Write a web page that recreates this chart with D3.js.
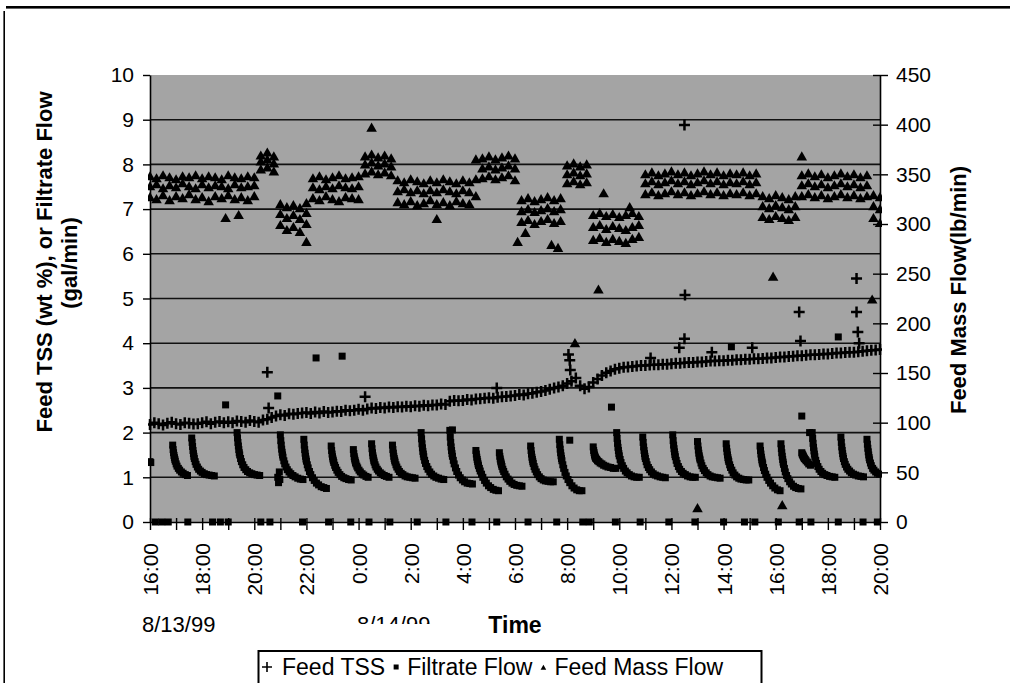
<!DOCTYPE html>
<html>
<head>
<meta charset="utf-8">
<script src="https://cdn.jsdelivr.net/npm/d3@7"></script>
<style>
  body { margin: 0; background: #fff; }
  svg { display: block; font-family: "Liberation Sans", Arial, sans-serif; }
</style>
</head>
<body>
<svg id="chart" width="1010" height="683"></svg>
<script>
// ---- Time frame of the run ----
const runStart = new Date(1999, 7, 13, 16, 0);
const runEnd = new Date(1999, 7, 14, 20, 0);

// ---- Feed TSS (wt %), logged every 10 minutes from 16:00 ----
const tssStepMin = 10;
const feedTss = [
  2.18,2.22,2.2,2.17,2.21,2.23,
  2.2,2.18,2.22,2.21,2.19,2.2,
  2.22,2.24,2.2,2.23,2.25,2.22,
  2.24,2.22,2.26,2.25,2.23,2.27,
  2.25,2.23,2.28,2.3,2.34,2.37,
  2.4,2.38,2.42,2.41,2.43,2.44,
  2.45,2.43,2.46,2.44,2.47,2.45,
  2.46,2.48,2.47,2.5,2.49,2.5,
  2.52,2.5,2.53,2.55,2.54,2.56,
  2.55,2.57,2.56,2.58,2.57,2.59,
  2.58,2.6,2.59,2.61,2.6,2.62,
  2.62,2.64,2.63,2.7,2.72,2.71,
  2.72,2.74,2.73,2.75,2.76,2.77,
  2.78,2.77,2.79,2.8,2.81,2.82,
  2.83,2.85,2.84,2.87,2.88,2.9,
  2.92,2.94,2.97,3.0,3.02,3.05,
  3.1,3.15,3.22,3.05,2.98,3.02,
  3.12,3.2,3.28,3.34,3.38,3.42,
  3.44,3.46,3.47,3.48,3.49,3.5,
  3.5,3.51,3.52,3.52,3.53,3.53,
  3.54,3.55,3.55,3.56,3.57,3.57,
  3.58,3.58,3.59,3.6,3.6,3.61,
  3.61,3.62,3.62,3.63,3.63,3.64,
  3.64,3.65,3.65,3.66,3.67,3.67,
  3.68,3.69,3.69,3.7,3.71,3.72,
  3.72,3.73,3.74,3.74,3.75,3.76,
  3.76,3.77,3.78,3.78,3.79,3.8,
  3.8,3.81,3.82,3.83,3.84,3.85,
  3.86
];
// isolated TSS readings: [hours after 16:00, wt %]
const feedTssExtra = [
  [4.5,3.35],[4.55,2.55],[8.25,2.8],[13.3,3.0],[16.05,3.75],[16.1,3.62],[16.12,3.4],
  [19.2,3.67],[20.3,3.9],[20.5,8.88],[20.52,5.08],[20.5,4.1],[21.55,3.8],[23.1,3.9],
  [24.9,4.7],[24.95,4.05],[27.1,5.45],[27.1,4.7],[27.15,4.25],[27.2,4.0]
];

// ---- Filtrate Flow (gal/min): one row per filtration cycle ----
const filtrateOffsetsMin = [0,1,2,3,4,5,6,8,10,13,16,20,24,29,34,40,46,52];
const filtrateCycleStart = [
  0.87,1.6,3.34,5.0,5.9,6.95,7.8,8.5,9.3,10.4,11.5,12.5,13.4,14.6,
  15.7,17.0,17.9,18.9,20.05,21.0,22.1,23.4,24.2,25.0,25.4,26.5,27.5
];
const filtrateCycles = [
  [1.72,1.62,1.55,1.49,1.44,1.4,1.36,1.3,1.25,1.2,1.16,1.12,1.09,1.06,1.04],
  [1.88,1.78,1.69,1.6,1.53,1.47,1.42,1.35,1.29,1.23,1.18,1.14,1.11,1.08,1.06,1.05,1.04,1.03],
  [2.0,1.88,1.78,1.7,1.62,1.55,1.5,1.42,1.35,1.28,1.22,1.17,1.13,1.1,1.08,1.06,1.05,1.04],
  [1.95,1.82,1.72,1.63,1.56,1.5,1.45,1.37,1.3,1.23,1.17,1.12,1.08,1.04,1.01,0.98,0.96,0.95],
  [1.85,1.72,1.62,1.54,1.47,1.41,1.36,1.28,1.21,1.13,1.06,0.99,0.93,0.87,0.83,0.79,0.77,0.75],
  [1.7,1.6,1.52,1.46,1.41,1.37,1.33,1.27,1.22,1.16,1.11,1.06,1.02,0.99,0.97,0.95,0.94],
  [1.62,1.53,1.46,1.41,1.37,1.33,1.3,1.25,1.21,1.16,1.12,1.08,1.05,1.02,1.0],
  [1.75,1.64,1.55,1.48,1.43,1.38,1.34,1.28,1.23,1.18,1.14,1.1,1.07,1.04,1.02,1.0],
  [1.72,1.62,1.54,1.47,1.42,1.38,1.34,1.28,1.23,1.18,1.13,1.09,1.06,1.03,1.01,1.0,0.99,0.98],
  [2.0,1.86,1.75,1.66,1.58,1.52,1.46,1.38,1.31,1.24,1.18,1.12,1.07,1.03,1.0,0.98,0.96,0.95],
  [2.05,1.9,1.78,1.68,1.6,1.53,1.47,1.38,1.3,1.21,1.13,1.05,0.99,0.94,0.9,0.87,0.86,0.85],
  [1.6,1.52,1.45,1.4,1.35,1.3,1.26,1.2,1.14,1.07,1.0,0.93,0.87,0.81,0.77,0.73,0.71,0.7],
  [1.55,1.47,1.41,1.36,1.32,1.28,1.24,1.18,1.13,1.07,1.01,0.96,0.91,0.87,0.84,0.82,0.81,0.8],
  [1.7,1.6,1.52,1.45,1.4,1.35,1.31,1.24,1.18,1.12,1.06,1.01,0.97,0.94,0.92,0.91,0.9,0.9],
  [1.85,1.73,1.63,1.55,1.48,1.42,1.37,1.28,1.2,1.11,1.03,0.95,0.88,0.81,0.76,0.72,0.7,0.7],
  [1.68,1.6,1.55,1.5,1.47,1.44,1.42,1.4,1.37,1.35,1.32,1.3,1.27,1.25,1.23,1.22,1.2,1.2],
  [2.0,1.87,1.76,1.67,1.6,1.53,1.48,1.4,1.33,1.26,1.2,1.14,1.1,1.06,1.03,1.01,1.0,1.0],
  [1.9,1.78,1.68,1.6,1.53,1.47,1.42,1.35,1.28,1.22,1.17,1.12,1.08,1.05,1.03,1.01,1.0,0.99],
  [1.95,1.82,1.72,1.64,1.57,1.51,1.46,1.38,1.31,1.24,1.18,1.13,1.09,1.06,1.03,1.01,1.0,1.0],
  [1.8,1.7,1.61,1.54,1.48,1.43,1.39,1.32,1.26,1.2,1.15,1.1,1.06,1.03,1.01,1.0,0.99,0.98],
  [1.75,1.65,1.57,1.5,1.44,1.39,1.35,1.28,1.22,1.16,1.1,1.05,1.01,0.98,0.96,0.95,0.94,0.94],
  [1.7,1.6,1.52,1.45,1.39,1.34,1.3,1.22,1.15,1.07,1.0,0.93,0.87,0.81,0.76,0.72,0.7],
  [1.75,1.64,1.55,1.47,1.4,1.34,1.29,1.2,1.12,1.04,0.97,0.9,0.85,0.8,0.77,0.75,0.74],
  [1.55,1.52,1.5,1.48,1.46,1.44,1.42,1.4,1.37,1.34,1.3,1.27],
  [2.0,1.87,1.76,1.67,1.59,1.52,1.46,1.38,1.31,1.24,1.18,1.13,1.09,1.06,1.04,1.02,1.01,1.0],
  [1.9,1.78,1.68,1.6,1.53,1.47,1.42,1.35,1.29,1.23,1.18,1.14,1.1,1.07,1.05,1.03,1.02,1.01],
  [1.85,1.74,1.65,1.57,1.5,1.44,1.39,1.32,1.26,1.2,1.16,1.12,1.09,1.07]
];
// no-flow readings between cycles (hours after 16:00)
const filtrateZeroTimes = [
  0.2,0.45,0.7,1.45,2.4,2.7,3.0,4.25,4.6,5.85,6.85,7.7,8.4,9.2,10.25,11.35,12.35,
  13.3,14.5,15.6,16.6,16.85,17.85,18.8,19.9,20.9,22.0,22.8,23.2,24.1,24.9,25.35,
  26.4,27.35,27.9
];
// isolated filtrate readings: [hours after 16:00, gal/min]
const filtrateExtra = [
  [0,1.35],[0.03,1.33],[2.9,2.62],[4.9,2.82],[6.37,3.67],[7.37,3.71],[4.9,1.0],
  [4.93,0.88],[4.96,1.12],[4.98,0.95],[11.6,2.06],[16.1,1.83],[17.7,2.57],
  [22.3,3.92],[25.0,2.37],[25.3,2.0],[26.4,4.14]
];

// ---- Feed Mass Flow (lb/min), every 15 minutes: upper, middle, lower readings ----
const massStepMin = 15;
const massHigh = [
  348,346,349,347,345,348,347,349,346,348,347,345,349,347,346,348,347,
  369,372,368,
  320,317,319,316,321,
  346,348,345,347,349,346,347,348,
  368,370,367,369,366,
  344,342,345,343,341,344,342,345,343,341,344,342,
  365,
  366,368,365,367,369,366,
  324,326,323,325,327,324,326,
  359,361,358,360,
  309,311,308,310,307,309,311,308,
  350,352,349,351,353,350,352,349,351,353,350,352,349,351,350,352,349,351,
  328,326,329,327,325,328,
  349,351,348,350,347,349,351,348,350,347,349,
  329,327
];
const massMid = [
  338,340,336,339,337,341,338,336,340,337,339,338,336,340,337,338,339,
  363,365,361,
  310,306,309,305,311,
  337,335,338,336,339,337,336,338,
  360,362,359,361,358,
  333,335,332,334,331,334,332,335,333,331,334,332,
  345,
  356,358,355,357,359,356,
  313,315,312,314,316,313,315,
  350,352,349,351,
  297,299,295,298,296,294,297,299,
  341,343,340,342,344,341,343,340,342,344,341,343,340,342,341,343,340,342,
  318,316,319,317,315,318,
  339,341,338,340,337,339,341,338,340,337,339,
  318,315
];
const massLow = [
  327,325,329,324,328,326,330,325,327,323,328,326,329,325,327,324,328,
  355,357,353,
  299,294,297,292,300,
  326,324,328,325,323,327,326,325,
  351,353,350,352,349,
  322,320,323,319,321,324,320,322,319,323,321,320,
  328,
  346,348,345,347,349,344,
  302,304,300,303,305,301,303,
  341,343,340,342,
  284,286,282,285,283,281,285,287,
  330,332,329,331,333,330,332,329,331,333,330,332,329,331,330,332,329,331,
  307,305,308,306,304,307,
  328,330,327,329,326,328,330,327,329,326,328,
  306,301
];
// isolated mass-flow readings: [hours after 16:00, lb/min]
const massExtra = [
  [8.5,397],[3.4,309],[2.9,306],[6.0,282],[11.0,305],[14.1,282],[14.4,291],[15.4,279],
  [15.65,276],[16.3,180],[17.2,234],[17.4,331],[18.4,317],[21.0,14],[23.9,247],
  [24.25,17],[25.0,368],[27.7,224]
];

// ---- Axis ticks and labels ----
const leftTicks = [0,1,2,3,4,5,6,7,8,9,10];
const rightTicks = [0,50,100,150,200,250,300,350,400,450];
const gridValues = [1,2,3,4,5,6,7,8,9];
const dateLabels = ["8/13/99", "8/14/99"];
const legendItems = [
  { key: "tss", label: "Feed TSS" },
  { key: "filtrate", label: "Filtrate Flow" },
  { key: "mass", label: "Feed Mass Flow" }
];

// ---- Layout ----
const plot = { left: 150, right: 880, top: 75, bottom: 522 };
const FONT = '"Liberation Sans", Arial, sans-serif';

const svg = d3.select("#chart");
const at = h => new Date(runStart.getTime() + h * 3600000);

const x = d3.scaleTime().domain([runStart, runEnd]).range([plot.left, plot.right]);
const yL = d3.scaleLinear().domain([0, 10]).range([plot.bottom, plot.top]);
const yR = d3.scaleLinear().domain([0, 450]).range([plot.bottom, plot.top]);

// outer frame lines
svg.append("rect").attr("x", 6).attr("y", 6).attr("width", 1004).attr("height", 2.6).attr("fill", "#000");
svg.append("rect").attr("x", 3.4).attr("y", 11).attr("width", 1.6).attr("height", 672).attr("fill", "#000");

// plot background
svg.append("rect")
  .attr("x", plot.left).attr("y", plot.top)
  .attr("width", plot.right - plot.left).attr("height", plot.bottom - plot.top)
  .attr("fill", "#a4a4a4");

// gridlines
svg.append("g").selectAll("line").data(gridValues).join("line")
  .attr("x1", plot.left).attr("x2", plot.right)
  .attr("y1", d => yL(d)).attr("y2", d => yL(d))
  .attr("stroke", "#111").attr("stroke-width", 1.6);

// clip for markers
svg.append("clipPath").attr("id", "plotClip").append("rect")
  .attr("x", plot.left - 2).attr("y", plot.top - 2)
  .attr("width", plot.right - plot.left + 4).attr("height", plot.bottom - plot.top + 6);

const marks = svg.append("g").attr("clip-path", "url(#plotClip)");

// Feed Mass Flow points
const massPoints = [];
[massHigh, massMid, massLow].forEach(arr => {
  arr.forEach((v, i) => massPoints.push({ t: at(i * massStepMin / 60), v }));
});
massExtra.forEach(([h, v]) => massPoints.push({ t: at(h), v }));

const triPath = d3.symbol(d3.symbolTriangle, 48)();
marks.append("g").selectAll("path").data(massPoints).join("path")
  .attr("d", triPath)
  .attr("transform", d => `translate(${x(d.t)},${yR(d.v) + 1})`)
  .attr("fill", "#000");

// Filtrate Flow points
const filtratePoints = [];
filtrateCycles.forEach((vals, ci) => {
  vals.forEach((v, j) => filtratePoints.push({ t: at(filtrateCycleStart[ci] + filtrateOffsetsMin[j] / 60), v }));
});
filtrateZeroTimes.forEach(h => filtratePoints.push({ t: at(h), v: 0 }));
filtrateExtra.forEach(([h, v]) => filtratePoints.push({ t: at(h), v }));

const sq = 7;
marks.append("g").selectAll("rect").data(filtratePoints).join("rect")
  .attr("x", d => x(d.t) - sq / 2).attr("y", d => yL(d.v) - sq / 2)
  .attr("width", sq).attr("height", sq)
  .attr("fill", "#000");

// Feed TSS points
const tssPoints = feedTss.map((v, i) => ({ t: at(i * tssStepMin / 60), v }));
feedTssExtra.forEach(([h, v]) => tssPoints.push({ t: at(h), v }));
const plusPath = "M-5.5,0H5.5M0,-5.5V5.5";
marks.append("g").selectAll("path").data(tssPoints).join("path")
  .attr("d", plusPath)
  .attr("transform", d => `translate(${x(d.t)},${yL(d.v)})`)
  .attr("stroke", "#000").attr("stroke-width", 2.5).attr("fill", "none");

// ---- Axes ----
function styleAxis(g) {
  g.selectAll(".domain").attr("stroke", "#000").attr("stroke-width", 1.6);
  g.selectAll(".tick line").attr("stroke", "#000").attr("stroke-width", 1.4);
  g.selectAll("text").attr("font-family", FONT).attr("font-size", 21).attr("fill", "#000");
}

const leftAxis = svg.append("g").attr("transform", `translate(${plot.left},0)`)
  .call(d3.axisLeft(yL).tickValues(leftTicks).tickFormat(d3.format("d"))
    .tickSizeInner(7).tickSizeOuter(0).tickPadding(9));
styleAxis(leftAxis);

const rightAxis = svg.append("g").attr("transform", `translate(${plot.right},0)`)
  .call(d3.axisRight(yR).tickValues(rightTicks).tickFormat(d3.format("d"))
    .tickSizeInner(8).tickSizeOuter(0).tickPadding(8));
styleAxis(rightAxis);
rightAxis.selectAll(".tick line").attr("x1", -7);

const hourFmt = d3.timeFormat("%-H:%M");
const bottomAxis = svg.append("g").attr("transform", `translate(0,${plot.bottom})`)
  .call(d3.axisBottom(x).ticks(d3.timeHour.every(1))
    .tickFormat(d => d.getHours() % 2 === 0 ? hourFmt(d) : "")
    .tickSizeInner(8).tickSizeOuter(0));
styleAxis(bottomAxis);
bottomAxis.selectAll(".tick line").attr("y1", -4);
bottomAxis.selectAll(".tick text")
  .attr("transform", "rotate(-90)")
  .attr("text-anchor", "end")
  .attr("x", -21).attr("y", 0).attr("dy", "0.36em");

// ---- Titles ----
svg.append("text")
  .attr("transform", "translate(52,262) rotate(-90)")
  .attr("text-anchor", "middle")
  .attr("font-family", FONT).attr("font-size", 22).attr("font-weight", "bold")
  .text("Feed TSS (wt %), or Filtrate Flow");
svg.append("text")
  .attr("transform", "translate(77,263) rotate(-90)")
  .attr("text-anchor", "middle")
  .attr("font-family", FONT).attr("font-size", 22).attr("font-weight", "bold")
  .text("(gal/min)");
svg.append("text")
  .attr("transform", "translate(966,290) rotate(-90)")
  .attr("text-anchor", "middle")
  .attr("font-family", FONT).attr("font-size", 22).attr("font-weight", "bold")
  .text("Feed Mass Flow(lb/min)");

svg.append("text")
  .attr("x", 515).attr("y", 633).attr("text-anchor", "middle")
  .attr("font-family", FONT).attr("font-size", 23).attr("font-weight", "bold")
  .text("Time");

svg.append("text")
  .attr("x", 142).attr("y", 632)
  .attr("font-family", FONT).attr("font-size", 22)
  .text(dateLabels[0]);

svg.append("clipPath").attr("id", "dateClip").append("rect")
  .attr("x", 340).attr("y", 600).attr("width", 120).attr("height", 24);
svg.append("text")
  .attr("x", 357).attr("y", 632)
  .attr("clip-path", "url(#dateClip)")
  .attr("font-family", FONT).attr("font-size", 22)
  .text(dateLabels[1]);

// ---- Legend ----
const legend = svg.append("g");
legend.append("rect")
  .attr("x", 258.5).attr("y", 651).attr("width", 503).attr("height", 45)
  .attr("fill", "#fff").attr("stroke", "#000").attr("stroke-width", 2);

const legendY = 675;
let lx = 267;
legendItems.forEach((item, i) => {
  const g = legend.append("g");
  if (item.key === "tss") {
    g.append("path").attr("d", "M-5,0H5M0,-5V5")
      .attr("transform", `translate(${lx},${legendY - 8})`)
      .attr("stroke", "#000").attr("stroke-width", 1.6).attr("fill", "none");
    lx += 15;
  } else if (item.key === "filtrate") {
    g.append("rect").attr("x", lx - 2.5).attr("y", legendY - 10.5)
      .attr("width", 5).attr("height", 5).attr("fill", "#000");
    lx += 11;
  } else {
    g.append("path").attr("d", d3.symbol(d3.symbolTriangle, 14)())
      .attr("transform", `translate(${lx},${legendY - 7})`).attr("fill", "#000");
    lx += 11;
  }
  const t = g.append("text").attr("x", lx).attr("y", legendY)
    .attr("font-family", FONT).attr("font-size", 23).text(item.label);
  lx += t.node().getComputedTextLength() + 11;
});
</script>
</body>
</html>
